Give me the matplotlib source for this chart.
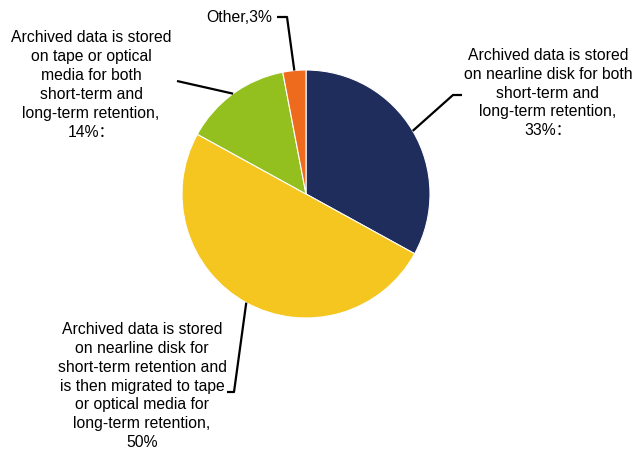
import numpy as np
import matplotlib
import matplotlib.pyplot as plt

matplotlib.use("Agg")

# Slice data, in drawing order (clockwise from 12 o'clock)
labels = [
    "Archived data is stored\non nearline disk for both\nshort-term and\nlong-term retention,\n33%：",
    "Archived data is stored\non nearline disk for\nshort-term retention and\nis then migrated to tape\nor optical media for\nlong-term retention,\n50%",
    "Archived data is stored\non tape or optical\nmedia for both\nshort-term and\nlong-term retention,\n14%：",
    "Other,3%",
]
shares = [33, 50, 14, 3]
colors = ["#1f2d5c", "#f4c61f", "#93c01f", "#ee6a1d"]

W, H = 635, 450
CENTER = (306, H - 194)
RADIUS = 124

# label layout (pixel positions, y measured from top): text centre and leader elbow
text_pos = [(548, 93), (142, 386), (91, 85), (239, 17)]
elbows = [[(453, 95), (462, 95)],
          [(234, 392), (227, 392)],
          [(177, 81)],
          [(287, 17), (277, 17)]]

FONT = ["Liberation Sans", "Noto Sans CJK SC", "DejaVu Sans"]

fig = plt.figure(figsize=(W / 100, H / 100), dpi=100)
ax = fig.add_axes([0, 0, 1, 1])

wedges, _ = ax.pie(shares, colors=colors, startangle=90, counterclock=False,
                   center=CENTER, radius=RADIUS,
                   wedgeprops=dict(edgecolor="white", linewidth=0.8))

# pie() resets the limits, so set the pixel frame afterwards
ax.set_xlim(0, W)
ax.set_ylim(0, H)
ax.set_aspect("equal")
ax.axis("off")

for w, lab, (tx, ty), elb in zip(wedges, labels, text_pos, elbows):
    mid = np.deg2rad((w.theta1 + w.theta2) / 2)
    sx = CENTER[0] + RADIUS * np.cos(mid)
    sy = CENTER[1] + RADIUS * np.sin(mid)
    xs = [sx] + [p[0] for p in elb]
    ys = [sy] + [H - p[1] for p in elb]
    ax.plot(xs, ys, color="black", linewidth=1.6, solid_capstyle="butt")
    ax.text(tx, H - ty, lab, ha="center", va="center", fontsize=11.3,
            family=FONT, linespacing=1.33, color="black")

fig.savefig("out.png", dpi=100)
